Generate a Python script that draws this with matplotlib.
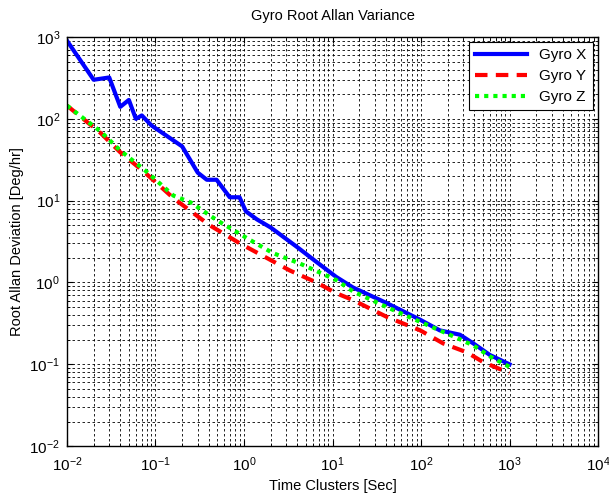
import matplotlib
matplotlib.use("Agg")
import matplotlib.pyplot as plt
from matplotlib.ticker import LogLocator, NullFormatter

plt.rcParams["font.family"] = ["Liberation Sans", "DejaVu Sans"]
plt.rcParams["mathtext.fontset"] = "custom"
plt.rcParams["mathtext.rm"] = "Liberation Sans"
plt.rcParams["mathtext.it"] = "Liberation Sans"

# data
tx = [0.01, 0.02, 0.03, 0.04, 0.05, 0.06, 0.07, 0.09, 0.2, 0.3, 0.38, 0.49, 0.69, 0.89,
      1.05, 1.4, 2.0, 4.0, 6.6, 11, 17, 41, 98, 163, 275, 390, 600, 1000]
gyroX = [900, 300, 320, 140, 170, 100, 110, 83, 46, 22, 18, 18, 11, 11,
         7.4, 5.9, 4.7, 2.7, 1.78, 1.17, 0.87, 0.56, 0.35, 0.26, 0.23, 0.18, 0.13, 0.10]

ty = [0.01, 0.024, 0.04, 0.076, 0.16, 0.32, 0.41, 0.9, 1.8, 3.3, 6.6, 11, 17, 41, 98,
      178, 330, 500, 1000]
gyroY = [145, 67, 39, 22, 10.7, 6.1, 5.0, 3.0, 2.0, 1.4, 1.0, 0.74, 0.61, 0.38, 0.26,
         0.18, 0.14, 0.107, 0.078]

tz = [0.01, 0.024, 0.04, 0.076, 0.16, 0.25, 0.49, 1.07, 2.1, 4.3, 7.8, 11, 17, 41, 98,
      255, 390, 600, 1000]
gyroZ = [145, 70, 41, 23.5, 11.5, 9.5, 5.8, 3.5, 2.3, 1.7, 1.27, 1.07, 0.78, 0.50, 0.33,
         0.21, 0.17, 0.125, 0.093]

fig = plt.figure(figsize=(6.09, 4.93), dpi=100)
ax = fig.add_axes([0.110, 0.095, 0.872, 0.830])

ax.loglog(tx, gyroX, color=(0, 0, 1), lw=3, label="Gyro X")
ax.loglog(ty, gyroY, color=(1, 0, 0), lw=3, ls=(0, (3, 2)), label="Gyro Y")
ax.loglog(tz, gyroZ, color=(0, 1, 0), lw=3, ls=(0, (1, 1.2)), label="Gyro Z")

ax.set_xlim(1e-2, 1e4)
ax.set_ylim(1e-2, 1e3)
ax.xaxis.set_major_locator(LogLocator(base=10, numticks=10))
ax.yaxis.set_major_locator(LogLocator(base=10, numticks=10))
ax.xaxis.set_minor_locator(LogLocator(base=10, subs=range(2, 10), numticks=20))
ax.yaxis.set_minor_locator(LogLocator(base=10, subs=range(2, 10), numticks=20))
ax.xaxis.set_minor_formatter(NullFormatter())
ax.yaxis.set_minor_formatter(NullFormatter())

ax.grid(True, which="both", color="black", lw=0.6, ls=(0, (3, 3)))
ax.tick_params(which="both", direction="in", top=True, right=True, labelsize=11)
ax.tick_params(axis="x", which="major", pad=7)
ax.tick_params(axis="y", which="major", pad=5)
ax.tick_params(which="major", length=4)
ax.tick_params(which="minor", length=2)
for s in ax.spines.values():
    s.set_linewidth(1.0)

ax.set_title("Gyro Root Allan Variance", fontsize=10.5, pad=12)
ax.set_xlabel("Time Clusters [Sec]", fontsize=10.5, labelpad=3)
ax.set_ylabel("Root Allan Deviation [Deg/hr]", fontsize=10.5)

leg = ax.legend(loc="upper right", fontsize=11, fancybox=False, framealpha=1,
                edgecolor="black", handlelength=3.4, borderaxespad=0.35,
                labelspacing=0.45)
leg.get_frame().set_linewidth(0.8)

fig.savefig("out.png", dpi=100)
